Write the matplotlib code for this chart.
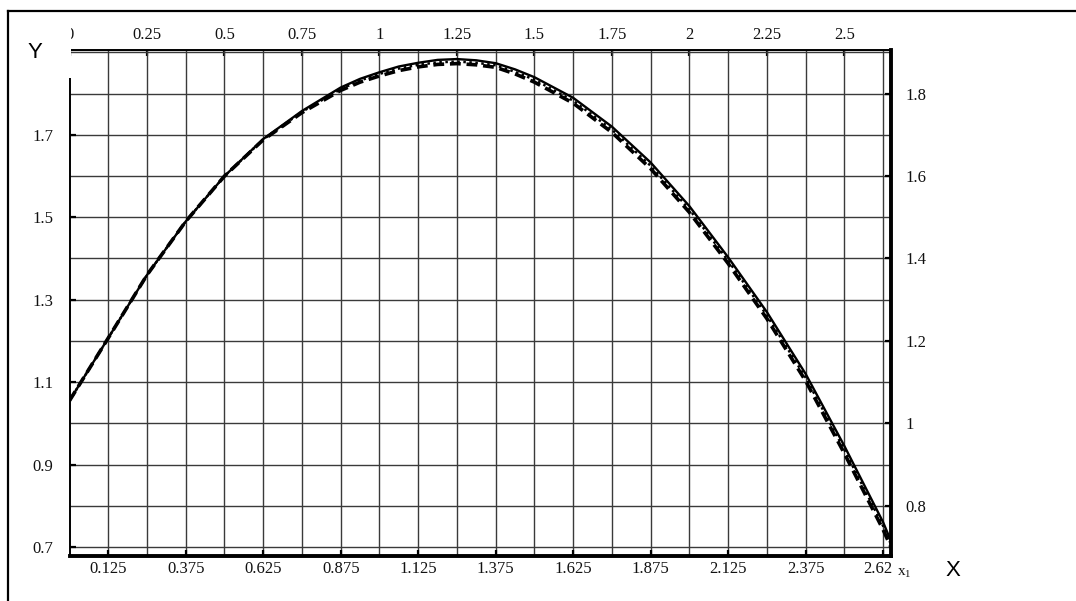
import matplotlib
matplotlib.use('Agg')
import matplotlib.pyplot as plt
import matplotlib.transforms as mtransforms
from matplotlib.patches import Rectangle
from matplotlib.lines import Line2D
import numpy as np

# values
x_pts = [0, 0.125, 0.25, 0.375, 0.5, 0.625, 0.75, 0.875, 0.9375, 1.0, 1.0625, 1.125,
         1.1875, 1.25, 1.3125, 1.375, 1.4375, 1.5, 1.625, 1.75, 1.875, 2.0, 2.125,
         2.25, 2.375, 2.5, 2.625, 2.65]
y_solid = [1.055, 1.207, 1.36, 1.49, 1.6, 1.69, 1.758, 1.815, 1.836, 1.852, 1.866, 1.875,
           1.882, 1.884, 1.881, 1.874, 1.859, 1.84, 1.79, 1.72, 1.633, 1.527, 1.403,
           1.27, 1.12, 0.945, 0.76, 0.715]
y_dashed = [1.055, 1.207, 1.36, 1.49, 1.6, 1.688, 1.754, 1.808, 1.828, 1.843, 1.856, 1.865,
            1.871, 1.873, 1.870, 1.864, 1.848, 1.828, 1.777, 1.706, 1.618, 1.512, 1.388,
            1.254, 1.103, 0.927, 0.742, 0.70]
y_dotted = [1.055, 1.207, 1.36, 1.49, 1.6, 1.689, 1.756, 1.811, 1.832, 1.848, 1.861, 1.870,
            1.876, 1.878, 1.875, 1.869, 1.853, 1.834, 1.783, 1.713, 1.625, 1.519, 1.395,
            1.262, 1.111, 0.936, 0.751, 0.707]

top_ticks = [0, 0.25, 0.5, 0.75, 1, 1.25, 1.5, 1.75, 2, 2.25, 2.5]
top_labels = ['0', '0.25', '0.5', '0.75', '1', '1.25', '1.5', '1.75', '2', '2.25', '2.5']
bottom_ticks = [0.125, 0.375, 0.625, 0.875, 1.125, 1.375, 1.625, 1.875, 2.125, 2.375, 2.625]
bottom_labels = ['0.125', '0.375', '0.625', '0.875', '1.125', '1.375', '1.625', '1.875',
                 '2.125', '2.375', '2.62']
left_ticks = [0.7, 0.9, 1.1, 1.3, 1.5, 1.7]
left_labels = ['0.7', '0.9', '1.1', '1.3', '1.5', '1.7']
right_ticks = [0.8, 1.0, 1.2, 1.4, 1.6, 1.8]
right_labels = ['0.8', '1', '1.2', '1.4', '1.6', '1.8']

xmin, xmax = 0, 2.652
ymin, ymax = 0.678, 1.906

serif = 'Liberation Serif'
sans = 'Liberation Sans'
txt = '#111111'
fs = 12

fig = plt.figure(figsize=(10.76, 6.01), dpi=100)
ax = fig.add_axes([0.0646, 0.0749, 0.7639, 0.8419])
ax.set_xlim(xmin, xmax)
ax.set_ylim(ymin, ymax)

# grid
for gx in np.arange(0.125, 2.63, 0.125):
    ax.axvline(gx, color='#3a3a3a', lw=1.0, zorder=1)
for gy in np.arange(0.7, 1.95, 0.1):
    ax.axhline(gy, color='#3a3a3a', lw=1.0, zorder=1)

# curves
ax.plot(x_pts, y_solid, color='black', lw=1.7, zorder=4)
ax.plot(x_pts, y_dashed, color='black', lw=2.6, ls=(0, (3, 1.6)), zorder=3)
ax.plot(x_pts, y_dotted, color='black', lw=1.8, ls=(0, (1, 1.4)), zorder=3)

# spines
for side in ['top', 'left']:
    ax.spines[side].set_linewidth(1.4)
for side in ['bottom', 'right']:
    ax.spines[side].set_linewidth(2.8)

# bottom / left ticks
ax.set_xticks(bottom_ticks)
ax.set_xticklabels(bottom_labels, fontfamily=serif, fontsize=fs, color=txt)
ax.set_yticks(left_ticks)
ax.set_yticklabels(left_labels, fontfamily=serif, fontsize=fs, color=txt)
ax.tick_params(axis='x', direction='in', length=4, width=1.6, pad=3.5)
ax.tick_params(axis='y', direction='in', length=4, width=1.6, pad=11.5)
last = ax.get_xticklabels()[-1]
last.set_transform(last.get_transform() +
                   mtransforms.ScaledTranslation(-5 / 100, 0, fig.dpi_scale_trans))

# top axis
axt = ax.secondary_xaxis('top')
axt.set_xticks(top_ticks)
axt.set_xticklabels(top_labels, fontfamily=serif, fontsize=fs, color=txt)
axt.tick_params(direction='in', length=4, width=1.6, pad=5)

# right axis
axr = ax.twinx()
axr.set_ylim(ymin, ymax)
axr.set_yticks(right_ticks)
axr.set_yticklabels(right_labels, fontfamily=serif, fontsize=fs, color=txt)
axr.tick_params(direction='in', length=4, width=1.6, pad=10)
for s in axr.spines.values():
    s.set_visible(False)

# axis names
fig.text(35 / 1076, 1 - 52 / 601, 'Y', family=sans, fontsize=16, ha='center', va='center',
         color='black', zorder=10)
fig.text(953 / 1076, 1 - 571 / 601, 'X', family=sans, fontsize=16, ha='center', va='center',
         color='black')
fig.text(897 / 1076, 1 - 573 / 601, r'$\mathregular{x_1}$', family=serif, fontsize=11,
         ha='left', va='center', color=txt)

# white box over the top-left corner, as in the source image
fig.patches.append(Rectangle((10 / 1076, 1 - 78 / 601), 60.5 / 1076, 65 / 601,
                             transform=fig.transFigure, facecolor='white',
                             edgecolor='none', zorder=5))

# outer frame
fig.lines.append(Line2D([8 / 1076, 1.0], [1 - 11 / 601, 1 - 11 / 601],
                        transform=fig.transFigure, color='black', lw=1.6))
fig.lines.append(Line2D([8 / 1076, 8 / 1076], [0.0, 1 - 11 / 601],
                        transform=fig.transFigure, color='black', lw=1.6))

fig.savefig('out.png', dpi=100)
